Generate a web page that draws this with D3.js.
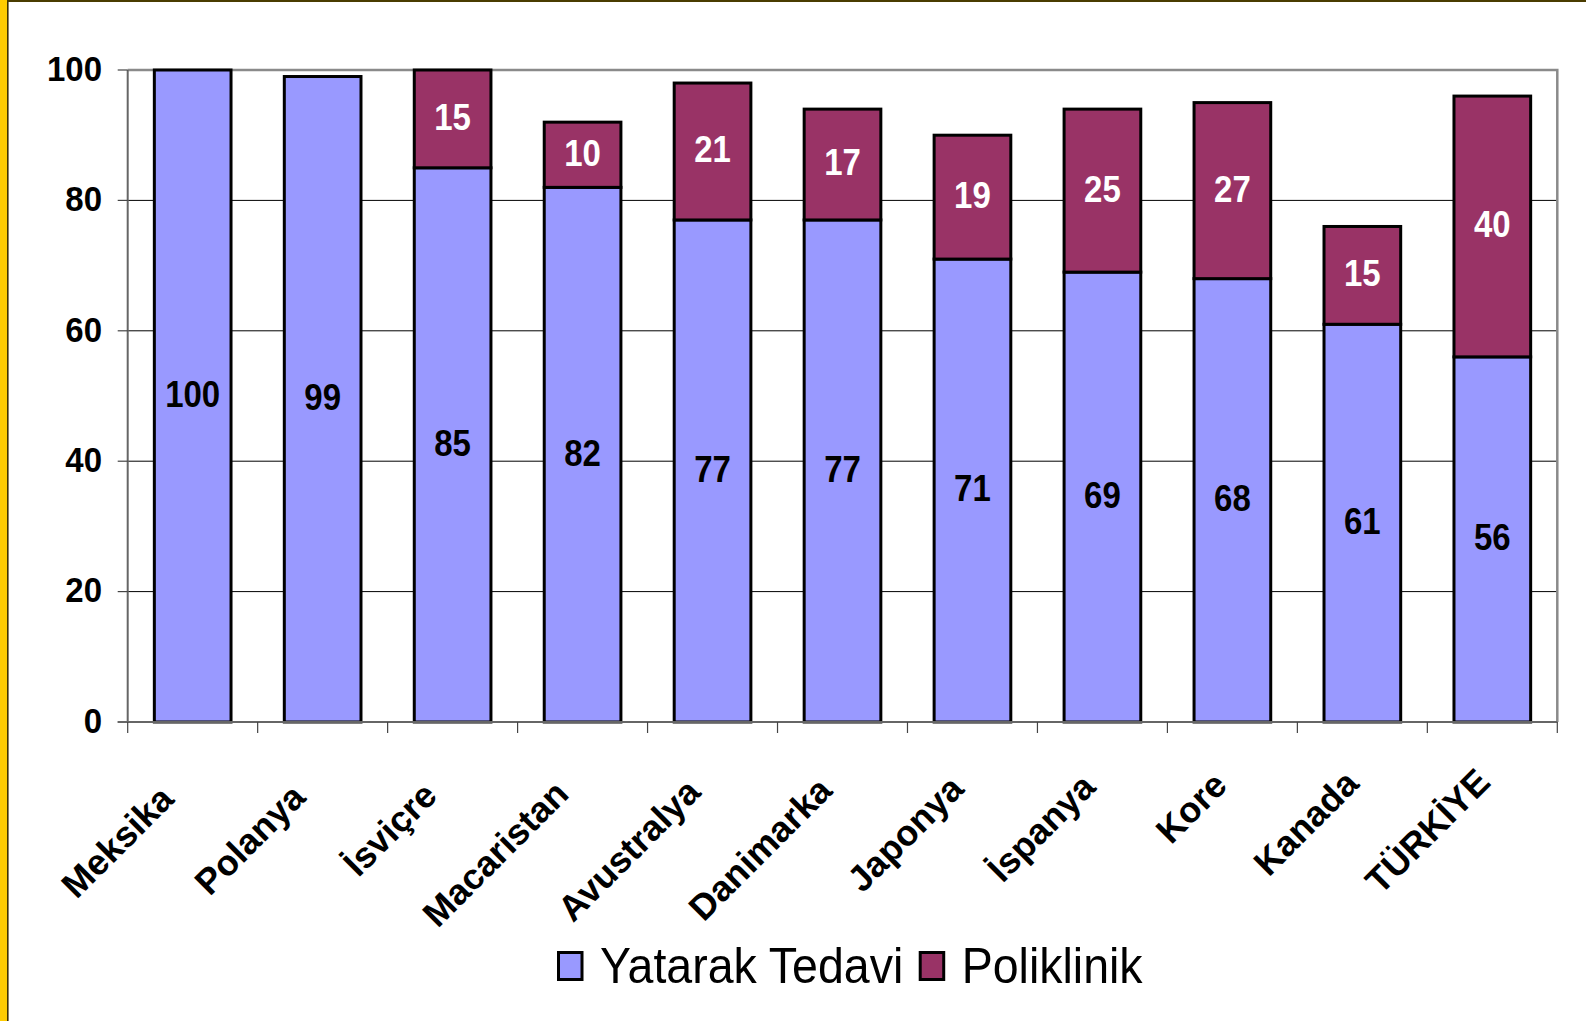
<!DOCTYPE html>
<html>
<head>
<meta charset="utf-8">
<script src="https://cdn.jsdelivr.net/npm/d3@7"></script>
<style>
  html, body { margin: 0; padding: 0; background: #fff; }
  svg { display: block; }
</style>
</head>
<body>
<svg id="chart"></svg>
<script>
// data
const countries = ['Meksika', 'Polanya', 'İsviçre', 'Macaristan', 'Avustralya', 'Danimarka', 'Japonya', 'İspanya', 'Kore', 'Kanada', 'TÜRKİYE']
const yatarak = [100, 99, 85, 82, 77, 77, 71, 69, 68, 61, 56]
const poliklinik = [0, 0, 15, 10, 21, 17, 19, 25, 27, 15, 40]
const seriesNames = ['Yatarak Tedavi', 'Poliklinik']
const seriesColors = ['#9999FF', '#993366']
const labelColors = ['#000', '#fff']
const yTicks = [0, 20, 40, 60, 80, 100]

const W = 1586, H = 1021
const plot = {left: 127.7, right: 1557.3, top: 70, bottom: 722}
const font = '"Liberation Sans", Arial, sans-serif'

const svg = d3.select('#chart').attr('width', W).attr('height', H)

svg.append('rect').attr('width', W).attr('height', H).attr('fill', '#fff')

// slide frame: yellow strip on the left, dark rule on top
svg.append('rect').attr('x', 0).attr('y', 0).attr('width', 7).attr('height', H).attr('fill', '#FFCC00')
svg.append('rect').attr('x', 7).attr('y', 0).attr('width', 1.6).attr('height', H).attr('fill', '#3f3300')
svg.append('rect').attr('x', 7).attr('y', 0).attr('width', W).attr('height', 2).attr('fill', '#4a3c00')

const data = countries.map((c, i) => ({country: c, yatarak: yatarak[i], poliklinik: poliklinik[i]}))
const stack = d3.stack().keys(['yatarak', 'poliklinik'])(data)

const x = d3.scaleBand()
    .domain(countries)
    .range([plot.left, plot.right])
    .paddingInner(0.41)
    .paddingOuter(0.205)

const y = d3.scaleLinear().domain([0, 100]).range([plot.bottom, plot.top])

// gridlines
svg.append('g')
    .selectAll('line')
    .data(yTicks.filter(d => d > 0 && d < 100))
    .join('line')
        .attr('x1', plot.left).attr('x2', plot.right)
        .attr('y1', d => y(d)).attr('y2', d => y(d))
        .attr('stroke', '#000')
        .attr('stroke-width', 1)

// plot area border (top + right)
svg.append('path')
    .attr('d', `M${plot.left},${plot.top}H${plot.right}V${plot.bottom}`)
    .attr('fill', 'none')
    .attr('stroke', '#8a8a8a')
    .attr('stroke-width', 2.5)

// bars
svg.append('g')
    .selectAll('g')
    .data(stack)
    .join('g')
        .attr('fill', (d, i) => seriesColors[i])
    .selectAll('rect')
    .data(d => d.filter(s => s[1] - s[0] > 0))
    .join('rect')
        .attr('x', d => x(d.data.country))
        .attr('width', x.bandwidth())
        .attr('y', d => y(d[1]))
        .attr('height', d => y(d[0]) - y(d[1]))
        .attr('stroke', '#000')
        .attr('stroke-width', 3)

// value labels, centred in each segment
svg.append('g')
    .selectAll('g')
    .data(stack)
    .join('g')
        .attr('fill', (d, i) => labelColors[i])
    .selectAll('text')
    .data(d => d.filter(s => s[1] - s[0] > 0))
    .join('text')
        .attr('transform', d => `translate(${x(d.data.country) + x.bandwidth() / 2},${(y(d[0]) + y(d[1])) / 2}) scale(1,1.1)`)
        .attr('text-anchor', 'middle')
        .attr('dy', '0.3em')
        .attr('font-family', font)
        .attr('font-weight', 'bold')
        .attr('font-size', 33)
        .text(d => d[1] - d[0])

// y axis
const yAxis = svg.append('g')
yAxis.append('line')
    .attr('x1', plot.left).attr('x2', plot.left)
    .attr('y1', plot.top).attr('y2', plot.bottom)
    .attr('stroke', '#666').attr('stroke-width', 2)
yAxis.selectAll('.tick')
    .data(yTicks)
    .join('line')
        .attr('x1', plot.left - 10).attr('x2', plot.left)
        .attr('y1', d => y(d)).attr('y2', d => y(d))
        .attr('stroke', '#444').attr('stroke-width', 1.2)
yAxis.selectAll('text')
    .data(yTicks)
    .join('text')
        .attr('transform', d => `translate(102,${y(d) - 2}) scale(1,1.08)`)
        .attr('text-anchor', 'end')
        .attr('dy', '0.36em')
        .attr('font-family', font)
        .attr('font-weight', 'bold')
        .attr('font-size', 33)
        .attr('fill', '#000')
        .text(d => d)

// x axis
const xAxis = svg.append('g')
xAxis.append('line')
    .attr('x1', plot.left - 10).attr('x2', plot.right)
    .attr('y1', plot.bottom).attr('y2', plot.bottom)
    .attr('stroke', '#666').attr('stroke-width', 2)
const step = x.step()
xAxis.selectAll('.xtick')
    .data(d3.range(countries.length + 1))
    .join('line')
        .attr('x1', i => plot.left + i * step).attr('x2', i => plot.left + i * step)
        .attr('y1', plot.bottom).attr('y2', plot.bottom + 11)
        .attr('stroke', '#444').attr('stroke-width', 1.2)

// the rotated labels drift a little along their baseline from left to right
xAxis.selectAll('text')
    .data(countries)
    .join('text')
        .attr('transform', (d, i) => {
            const drift = 1.7 * i
            return `translate(${x(d) + x.bandwidth() / 2 - 17 + drift},${plot.bottom + 79 - drift}) rotate(-45)`
        })
        .attr('text-anchor', 'end')
        .attr('font-family', font)
        .attr('font-weight', 'bold')
        .attr('font-size', 36)
        .attr('fill', '#000')
        .text(d => d)

// legend
const legend = svg.append('g')
let lx = 558.5
seriesNames.forEach((name, i) => {
    legend.append('rect')
        .attr('x', lx).attr('y', 952.5)
        .attr('width', 23.5).attr('height', 27)
        .attr('fill', seriesColors[i])
        .attr('stroke', '#000').attr('stroke-width', 3)
    const t = legend.append('text')
        .attr('transform', `translate(${lx + 41.5},983) scale(1,1.09)`)
        .attr('font-family', font)
        .attr('font-size', 46.5)
        .attr('fill', '#000')
        .text(name)
    lx += 41.5 + t.node().getComputedTextLength() + 17
})
</script>
</body>
</html>
